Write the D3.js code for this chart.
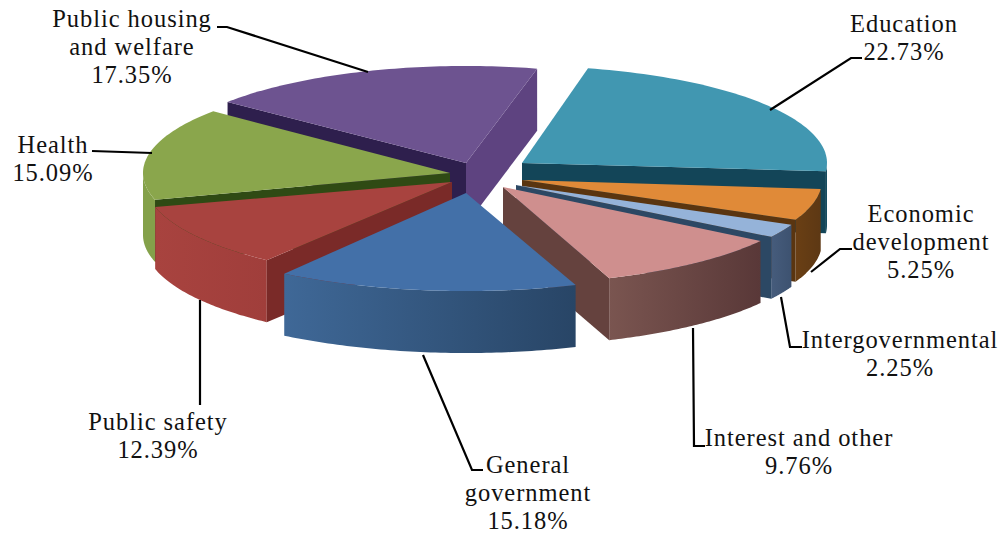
<!DOCTYPE html>
<html><head><meta charset="utf-8">
<script src="https://cdn.jsdelivr.net/npm/d3@7/dist/d3.min.js"></script>
<style>html,body{margin:0;padding:0;background:#fff}svg{display:block}
text{font-family:"Liberation Serif","Times New Roman",serif;font-size:24.5px;letter-spacing:0.95px;fill:#111;text-anchor:middle}</style>
</head><body><svg id="c" width="1003" height="533"></svg>
<script>
// ---- data ----
const categories = ["Education","Economic development","Intergovernmental","Interest and other","General government","Public safety","Health","Public housing and welfare"];
const shares = [22.73,5.25,2.25,9.76,15.18,12.39,15.09,17.35];
const labelLines = [["Education"],["Economic","development"],["Intergovernmental"],["Interest and other"],["General","government"],["Public safety"],["Health"],["Public housing","and welfare"]];

// ---- layout (explosion of each slice, perspective, styling) ----
const firstAngle = 12, depth = 62;
const apexes = [[522,163],[522,180],[516,185],[503,187],[466,193],[452,182],[450,173],[466,163]];
const radiiX = [305,300,302,310,320,307,307,307];
const radiiY = [97,97,97,97,98,98,97,97];
const nudgeStart = [0.5,1.5,1.5,3,4,6.5,-1.3,-0.5];
const nudgeEnd = [1,1.5,1.5,4,4,0,0,1.4];
const paintOrder = [7,0,6,1,2,5,3,4];
const topColors = ["#4197b1","#e08a38","#95b3d9","#cf8f8e","#4370a8","#a8433f","#8aa64c","#6d5390"];
const wallFrom = ["#154c60","#6a3f14","#465c7c","#7a5550","#3f6897","#a8433f","#84a14a","#6d5390"];
const wallTo = ["#154c60","#5d3814","#3d5270","#593838","#284566","#a03e3b","#84a14a","#6d5390"];
const startFace = ["#134558","#5a3510","#2c4864","#65423e","#2f4f78","#7a2a28","#2f4a14","#2e1f4d"];
const endFace = ["#134558","#5a3510","#2c4864","#65423e","#2f4f78","#7a2a28","#2f4a14","#5e4380"];
const leaders = [
 [[862,58],[851,58],[770,110]],
 [[852,249],[840,249],[811,272]],
 [[802,347],[790,347],[781,297]],
 [[705,446],[694,446],[693,328]],
 [[483,470],[472,470],[423,355]],
 [[200,405],[200,300]],
 [[92,151],[152,153]],
 [[217,27],[227,27],[368,72]]
];
const labelPos = [[904,32],[921,222],[900,348],[799,446],[528,473],[158,430],[53,153],[132,27]];
const lineGap = 28;

const svg = d3.select("#c"), defs = svg.append("defs");
const rad = d => d*Math.PI/180;
const pie = d3.pie().sort(null).value(d=>d).startAngle(rad(firstAngle)).endAngle(rad(firstAngle)+2*Math.PI);
const arcs = pie(shares);
const line = d3.line();

const slices = arcs.map((a,i)=>{
  const sx = d3.scaleLinear().domain([0,1]).range([apexes[i][0],apexes[i][0]+radiiX[i]]);
  const sy = d3.scaleLinear().domain([0,1]).range([apexes[i][1],apexes[i][1]-radiiY[i]]);
  const t0 = a.startAngle+rad(nudgeStart[i]), t1 = a.endAngle+rad(nudgeEnd[i]);
  const pt = (t,dz=0)=>[sx(Math.sin(t)),sy(Math.cos(t))+dz];
  return {i,t0,t1,pt,apex:apexes[i]};
});
const arcPts = (s,a,b,dz)=>d3.range(0,61).map(k=>s.pt(a+(b-a)*k/60,dz));

paintOrder.forEach(i=>{
  const s = slices[i], g = svg.append("g");
  const A = s.apex, P0 = s.pt(s.t0), P1 = s.pt(s.t1);
  const face = P=>[A,P,[P[0],P[1]+depth],[A[0],A[1]+depth]];
  // visible outer wall
  const a = Math.max(s.t0,Math.PI/2), b = Math.min(s.t1,Math.PI*1.5);
  if(b>a){
    const upper = arcPts(s,a,b,0), lower = arcPts(s,a,b,depth).reverse();
    const xs = upper.map(p=>p[0]);
    const id = "w"+i;
    const gr = defs.append("linearGradient").attr("id",id).attr("gradientUnits","userSpaceOnUse")
      .attr("x1",d3.min(xs)).attr("x2",d3.max(xs)).attr("y1",0).attr("y2",0);
    gr.append("stop").attr("offset",0).attr("stop-color",wallFrom[i]);
    gr.append("stop").attr("offset",1).attr("stop-color",wallTo[i]);
    g.append("path").attr("d",line(upper.concat(lower))+"Z").attr("fill",`url(#${id})`);
  }
  // radial cut faces, only when they turn toward the viewer
  if(Math.sin(s.t0)<0) g.append("path").attr("d",line(face(P0))+"Z").attr("fill",startFace[i]);
  if(Math.sin(s.t1)>0) g.append("path").attr("d",line(face(P1))+"Z").attr("fill",endFace[i]);
  // top
  g.append("path").attr("d",line([A].concat(arcPts(s,s.t0,s.t1,0)))+"Z").attr("fill",topColors[i]);
});

// leader lines
leaders.forEach(l=>svg.append("path").attr("d",line(l)).attr("fill","none").attr("stroke","#000").attr("stroke-width",2.2));

// labels
categories.forEach((c,i)=>{
  const lines = labelLines[i].concat(d3.format(".2f")(shares[i])+"%");
  const t = svg.append("text").attr("aria-label",c);
  lines.forEach((ln,k)=>t.append("tspan").attr("x",labelPos[i][0]).attr("y",labelPos[i][1]+k*lineGap).text(ln));
});
</script></body></html>
